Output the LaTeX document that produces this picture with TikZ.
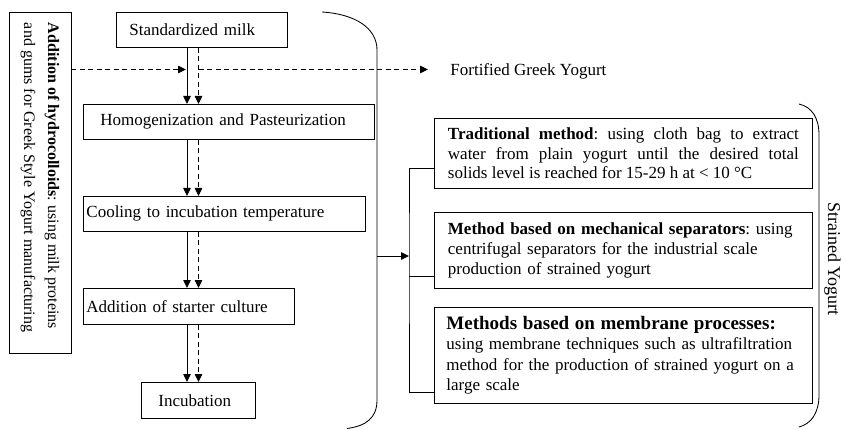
\documentclass[tikz,border=0pt]{standalone}
\usepackage{fontspec}
\setmainfont{Liberation Serif}
\usetikzlibrary{arrows.meta}
\frenchspacing
\begin{document}
\begin{tikzpicture}[x=1pt,y=-1pt, line width=0.85pt,
  box/.style={draw, inner ysep=0pt, font=\fontsize{17}{20}\selectfont, anchor=north west},
  arr/.style={-{Triangle[length=8pt,width=7.5pt]}},
  dsh/.style={dash pattern=on 5pt off 3.5pt}]
\useasboundingbox (0,0) rectangle (842,430);

% main flow
\node[box, minimum width=171, minimum height=35, inner xsep=13, text width=145, align=left] (sm) at (116,12) {Standardized milk};
\node[box, minimum width=291, minimum height=35, inner xsep=17, text width=257, align=left] (hp) at (83,104) {Homogenization and Pasteurization};
\node[box, minimum width=282, minimum height=35, inner xsep=3, text width=276, align=left] (cl) at (83,196) {Cooling to incubation temperature};
\node[box, minimum width=211, minimum height=36, inner xsep=3, text width=205, align=left] (st) at (83,288) {Addition of starter culture};
\node[box, minimum width=114, minimum height=36, inner xsep=17, text width=80, align=left] (inc) at (141,382) {Incubation};

% left box
\node[draw, minimum width=62, minimum height=341, inner sep=0pt] (hc) at (40,182.5) {\rotatebox{-90}{\parbox{319pt}{\raggedright\fontsize{16}{24}\selectfont \textbf{Addition of hydrocolloids}: using milk proteins\\ and gums for Greek Style Yogurt manufacturing}}};

% fortified
\node[anchor=west, inner xsep=22, font=\fontsize{17}{20}\selectfont] (fg) at (428,71) {Fortified Greek Yogurt};

\coordinate (cs) at (187,0);
\coordinate (cd) at (198.5,0);
\coordinate (fy) at (0,69.5);

\draw[arr] (sm.south -| cs) -- (hp.north -| cs);
\draw[arr] (hp.south -| cs) -- (cl.north -| cs);
\draw[arr] (cl.south -| cs) -- (st.north -| cs);
\draw[arr] (st.south -| cs) -- (inc.north -| cs);
\draw[arr,dsh] (sm.south -| cd) -- (hp.north -| cd);
\draw[arr,dsh] (hp.south -| cd) -- (cl.north -| cd);
\draw[arr,dsh] (cl.south -| cd) -- (st.north -| cd);
\draw[arr,dsh] (st.south -| cd) -- (inc.north -| cd);

\draw[arr,dsh] (hc.east |- fy) -- ([xshift=-1pt]cs |- fy);
\draw[arr,dsh] (cd |- fy) -- (fg.west |- fy);

% left bracket
\draw (322,12) .. controls (355,14) and (377,28) .. (377,50) -- (377,400) .. controls (377,418) and (366,426) .. (347,428.5);

% right boxes
\node[box, minimum width=378, minimum height=70, inner xsep=13.5, text width=351, align=justify, font=\fontsize{17}{19.5}\selectfont] (tm) at (434,118) {\textbf{Traditional method}: using cloth bag to extract\linebreak water from plain yogurt until the desired total\linebreak solids level is reached for 15-29 h at < 10 °C};
\node[box, minimum width=378, minimum height=76, inner xsep=13.5, text width=351, align=left, font=\fontsize{17}{19.8}\selectfont] (ms) at (434,212) {\textbf{Method based on mechanical separators}: using\\ centrifugal separators for the industrial scale\\ production of strained yogurt};
\node[box, minimum width=378, minimum height=96, inner xsep=12, text width=354, align=left, font=\fontsize{17}{20.5}\selectfont] (mp) at (434,307) {{\fontsize{19}{20.5}\selectfont\bfseries Methods based on membrane processes:}\\ using membrane techniques such as ultrafiltration\\ method for the production of strained yogurt on a\\ large scale};

\coordinate (bk) at (377,256);
\coordinate (vj) at (409,256);
\draw[arr] (bk) -- (vj);
\path ([yshift=20pt]tm.south west) coordinate (t1)
      ([yshift=12pt]ms.south west) coordinate (t2)
      ([yshift=11pt]mp.south west) coordinate (t3);
\draw (t1) -| (vj) |- (t3);
\draw (t2) -- (vj |- t2);

% right bracket
\draw (799,104) .. controls (812,107) and (819,118) .. (819,135) -- (819,395) .. controls (819,413) and (811,424) .. (799,427);
\node[rotate=-90, inner sep=1pt, font=\fontsize{18}{20}\selectfont] (sy) at (832.5,259) {Strained Yogurt};
\end{tikzpicture}
\end{document}
